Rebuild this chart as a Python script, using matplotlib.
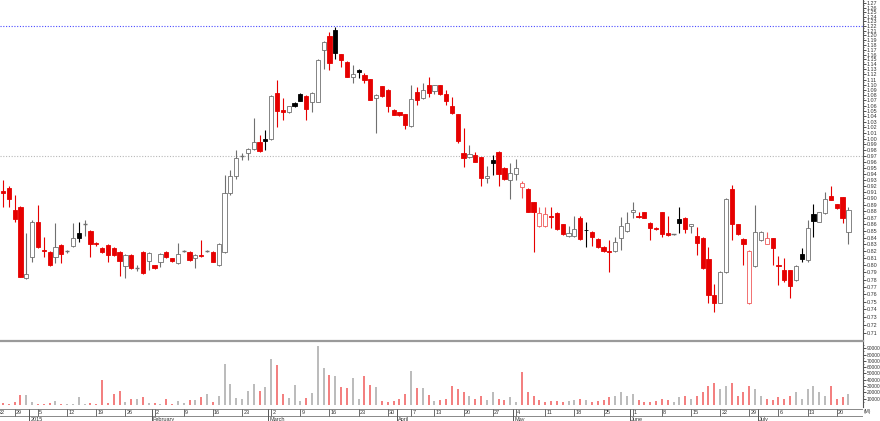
import matplotlib
matplotlib.use("Agg")
import matplotlib.pyplot as plt
from matplotlib.patches import Rectangle
from matplotlib.ticker import FixedLocator, NullLocator, FuncFormatter
import numpy as np
import pandas as pd

plt.rcParams["font.family"] = ["Liberation Sans", "DejaVu Sans"]

# trading calendar (Euronext style holidays)
holidays = ["2014-12-25", "2014-12-26", "2015-01-01", "2015-04-03", "2015-04-06", "2015-05-01"]
dates = pd.bdate_range("2014-12-23", "2015-07-22", freq="C", holidays=holidays)

opens = [0.912, 0.917, 0.882, 0.887, 0.782, 0.812, 0.863, 0.822, 0.819, 0.812,
         0.829, 0.820, 0.827, 0.847, 0.860, 0.850, 0.832, 0.825, 0.829, 0.825,
         0.819, 0.799, 0.815, 0.796, 0.819, 0.806, 0.800, 0.805, 0.819, 0.810,
         0.803, 0.820, 0.819, 0.810, 0.814, 0.820, 0.819, 0.800, 0.819, 0.909,
         0.936, 0.970, 0.975, 0.982, 0.994, 0.999, 0.999, 1.084, 1.051, 1.048,
         1.065, 1.082, 1.078, 1.067, 1.067, 1.169, 1.198, 1.211, 1.161, 1.145,
         1.115, 1.129, 1.119, 1.111, 1.074, 1.097, 1.090, 1.052, 1.048, 1.044,
         1.022, 1.086, 1.074, 1.099, 1.088, 1.099, 1.082, 1.059, 1.044, 0.975,
         0.968, 0.972, 0.968, 0.933, 0.963, 0.977, 0.950, 0.930, 0.940, 0.918,
         0.915, 0.894, 0.857, 0.857, 0.872, 0.877, 0.860, 0.842, 0.842, 0.870,
         0.852, 0.849, 0.838, 0.826, 0.821, 0.820, 0.839, 0.850, 0.878, 0.872,
         0.878, 0.862, 0.855, 0.878, 0.847, 0.845, 0.868, 0.870, 0.857, 0.843,
         0.840, 0.809, 0.759, 0.749, 0.790, 0.915, 0.860, 0.838, 0.748, 0.799,
         0.836, 0.831, 0.839, 0.801, 0.793, 0.793, 0.779, 0.816, 0.808, 0.876,
         0.864, 0.877, 0.904, 0.891, 0.902, 0.848]
highs = [0.930, 0.920, 0.905, 0.888, 0.847, 0.866, 0.890, 0.841, 0.820, 0.862,
         0.830, 0.822, 0.862, 0.863, 0.866, 0.851, 0.834, 0.826, 0.830, 0.826,
         0.820, 0.816, 0.816, 0.800, 0.820, 0.819, 0.801, 0.817, 0.820, 0.811,
         0.832, 0.822, 0.820, 0.816, 0.836, 0.822, 0.820, 0.832, 0.938, 0.946,
         0.980, 0.975, 0.984, 1.037, 1.007, 1.016, 1.080, 1.109, 1.074, 1.060,
         1.066, 1.083, 1.080, 1.086, 1.151, 1.188, 1.207, 1.218, 1.162, 1.146,
         1.139, 1.131, 1.123, 1.112, 1.082, 1.098, 1.091, 1.053, 1.049, 1.045,
         1.099, 1.095, 1.103, 1.114, 1.100, 1.100, 1.090, 1.076, 1.045, 1.019,
         0.989, 0.977, 0.969, 0.953, 0.972, 0.978, 0.951, 0.958, 0.965, 0.928,
         0.916, 0.895, 0.887, 0.887, 0.887, 0.878, 0.861, 0.857, 0.872, 0.872,
         0.863, 0.850, 0.839, 0.827, 0.836, 0.841, 0.871, 0.879, 0.894, 0.879,
         0.879, 0.863, 0.856, 0.879, 0.872, 0.846, 0.887, 0.871, 0.861, 0.856,
         0.841, 0.826, 0.774, 0.792, 0.901, 0.921, 0.861, 0.839, 0.822, 0.889,
         0.850, 0.849, 0.840, 0.813, 0.810, 0.794, 0.800, 0.825, 0.866, 0.892,
         0.879, 0.910, 0.920, 0.892, 0.903, 0.887]
lows = [0.887, 0.887, 0.863, 0.783, 0.781, 0.805, 0.825, 0.812, 0.799, 0.803,
        0.803, 0.818, 0.826, 0.833, 0.843, 0.812, 0.828, 0.818, 0.805, 0.813,
        0.785, 0.782, 0.795, 0.792, 0.788, 0.794, 0.795, 0.797, 0.811, 0.805,
        0.802, 0.819, 0.806, 0.796, 0.812, 0.819, 0.804, 0.799, 0.818, 0.905,
        0.932, 0.963, 0.963, 0.980, 0.977, 0.980, 0.998, 1.021, 1.034, 1.047,
        1.058, 1.068, 1.034, 1.048, 1.066, 1.131, 1.129, 1.151, 1.135, 1.114,
        1.103, 1.113, 1.103, 1.070, 1.010, 1.077, 1.048, 1.042, 1.041, 1.017,
        1.020, 1.061, 1.073, 1.076, 1.082, 1.081, 1.061, 1.045, 0.992, 0.951,
        0.966, 0.959, 0.920, 0.925, 0.938, 0.920, 0.930, 0.899, 0.930, 0.901,
        0.878, 0.819, 0.856, 0.856, 0.854, 0.852, 0.844, 0.841, 0.841, 0.836,
        0.826, 0.827, 0.825, 0.819, 0.790, 0.819, 0.822, 0.849, 0.869, 0.870,
        0.869, 0.836, 0.852, 0.841, 0.843, 0.844, 0.847, 0.847, 0.847, 0.815,
        0.795, 0.748, 0.737, 0.748, 0.789, 0.836, 0.844, 0.800, 0.747, 0.798,
        0.835, 0.830, 0.800, 0.772, 0.777, 0.755, 0.778, 0.805, 0.805, 0.841,
        0.863, 0.876, 0.897, 0.884, 0.862, 0.830]
closes = [0.909, 0.899, 0.868, 0.784, 0.788, 0.863, 0.826, 0.820, 0.800, 0.826,
          0.816, 0.820, 0.839, 0.839, 0.860, 0.831, 0.830, 0.819, 0.815, 0.814,
          0.806, 0.815, 0.796, 0.796, 0.789, 0.817, 0.796, 0.816, 0.812, 0.806,
          0.816, 0.820, 0.807, 0.815, 0.813, 0.820, 0.805, 0.831, 0.909, 0.936,
          0.966, 0.970, 0.982, 0.994, 0.979, 0.996, 1.078, 1.050, 1.049, 1.059,
          1.059, 1.069, 1.054, 1.084, 1.149, 1.186, 1.143, 1.163, 1.149, 1.115,
          1.121, 1.125, 1.109, 1.071, 1.080, 1.078, 1.059, 1.043, 1.042, 1.025,
          1.072, 1.071, 1.090, 1.084, 1.099, 1.082, 1.069, 1.046, 0.996, 0.966,
          0.973, 0.960, 0.933, 0.936, 0.958, 0.940, 0.931, 0.941, 0.950, 0.925,
          0.879, 0.878, 0.877, 0.876, 0.871, 0.853, 0.845, 0.847, 0.853, 0.838,
          0.851, 0.841, 0.826, 0.820, 0.819, 0.834, 0.857, 0.862, 0.882, 0.871,
          0.870, 0.854, 0.853, 0.845, 0.844, 0.845, 0.862, 0.853, 0.860, 0.832,
          0.796, 0.759, 0.748, 0.790, 0.899, 0.860, 0.845, 0.831, 0.820, 0.849,
          0.849, 0.839, 0.824, 0.799, 0.779, 0.771, 0.799, 0.809, 0.855, 0.865,
          0.878, 0.899, 0.898, 0.885, 0.869, 0.882]
volumes = [2600, 1500, 5300, 15900, 15900, 4800, 2100, 1000, 3700, 6300,
           1600, 1000, 1000, 12200, 1000, 3200, 1600, 39000, 3700, 17500,
           22700, 4800, 9500, 9000, 12200, 3700, 3200, 1000, 9000, 1000,
           5800, 3200, 7400, 7400, 12700, 17500, 4800, 14300, 64500, 33900,
           10600, 9500, 22700, 33900, 22700, 28000, 72500, 63500, 17500, 10600,
           31200, 6300, 10600, 19600, 93600, 58200, 47600, 46600, 28600, 26500,
           43400, 9000, 46000, 31700, 28600, 6300, 4800, 6300, 9000, 18000,
           53400, 27500, 26500, 15900, 6300, 8000, 10000, 30000, 25000, 20000,
           15000, 10000, 15000, 8000, 20000, 10000, 8000, 12000, 5000, 52000,
           20000, 15000, 8000, 5000, 6000, 7000, 5000, 6000, 8000, 10000,
           8000, 5000, 6000, 8000, 12000, 15000, 20000, 15000, 18000, 8000,
           5000, 5000, 6000, 10000, 8000, 5000, 12000, 15000, 10000, 15000,
           20000, 30000, 35000, 25000, 30000, 35000, 15000, 20000, 30000, 25000,
           15000, 10000, 8000, 12000, 10000, 15000, 20000, 10000, 25000, 30000,
           20000, 15000, 30000, 10000, 12000, 18000]

resistance = 1.22
support = 0.97

RED = "#e60000"
PINK = "#f05a5a"
GRAY = "#707070"
BLACK = "#000000"
TXT = "#333333"

W, H = 880, 421
fig = plt.figure(figsize=(W / 100, H / 100), dpi=100)
axp = fig.add_axes([0, 81 / H, 863 / W, 340 / H])
axv = fig.add_axes([0, 14 / H, 863 / W, 66 / H])
axd = fig.add_axes([0, 0, 863 / W, 14 / H])

n = len(closes)
xlim = (-0.51, 147.5)
bw = 0.72

# candles
for i in range(n):
    o, h, l, c = opens[i], highs[i], lows[i], closes[i]
    up_day = i > 0 and c >= closes[i - 1]
    if c > o:
        edge = GRAY if up_day else PINK
        face = "white"
    elif c < o:
        edge = BLACK if up_day else RED
        face = edge
    else:
        edge = GRAY if up_day else RED
        face = edge
    axp.vlines(i, l, h, color=edge, lw=0.8, zorder=2)
    if c == o:
        axp.hlines(c, i - bw / 2, i + bw / 2, color=edge, lw=1.0, zorder=3)
    else:
        axp.add_patch(Rectangle((i - bw / 2, min(o, c)), bw, abs(c - o),
                                facecolor=face, edgecolor=edge, lw=0.6, zorder=3))

axp.axhline(resistance, color="#4a4aff", lw=0.8, ls=(0, (1, 1.5)), zorder=1)
axp.axhline(support, color="#b8b8b8", lw=0.8, ls=(0, (1, 1.5)), zorder=1)

axp.set_yscale("log")
axp.set_ylim(0.7012, 1.2771)
axp.set_xlim(*xlim)
ticks = np.round(np.arange(0.71, 1.2701, 0.01), 2)
axp.yaxis.set_major_locator(FixedLocator(ticks))
axp.yaxis.set_minor_locator(FixedLocator(ticks + 0.005))
axp.yaxis.set_major_formatter(FuncFormatter(lambda v, p: "%.2f" % v))
axp.yaxis.set_minor_formatter(FuncFormatter(lambda v, p: ""))
axp.yaxis.tick_right()
axp.tick_params(axis="y", which="major", labelsize=3.9, length=2, width=0.6,
                pad=0.8, colors=TXT)
axp.tick_params(axis="y", which="minor", length=1, width=0.5, colors=TXT)
axp.set_xticks([])
for s in ["top", "left", "bottom"]:
    axp.spines[s].set_visible(False)
axp.spines["right"].set_color("#555555")
axp.spines["right"].set_linewidth(0.8)

# volume
vcol = [PINK if (i == 0 or closes[i] < closes[i - 1]) else "#a8a8a8" for i in range(n)]
axv.vlines(np.arange(n), 0, volumes, colors=vcol, lw=1.1)
axv.set_xlim(*xlim)
axv.set_ylim(-3200, 101600)
axv.yaxis.tick_right()
axv.yaxis.set_major_locator(FixedLocator(np.arange(10000, 90001, 10000)))
axv.yaxis.set_minor_locator(FixedLocator(np.arange(5000, 95001, 10000)))
axv.yaxis.set_major_formatter(FuncFormatter(lambda v, p: "%d" % v))
axv.yaxis.set_minor_formatter(FuncFormatter(lambda v, p: ""))
axv.tick_params(axis="y", which="major", labelsize=3.5, length=2, width=0.6,
                pad=0.8, colors=TXT)
axv.tick_params(axis="y", which="minor", length=1, width=0.5, colors=TXT)
axv.set_xticks([])
axv.spines["left"].set_visible(False)
axv.spines["bottom"].set_visible(False)
axv.spines["top"].set_color("#9a9a9a")
axv.spines["top"].set_linewidth(1.6)
axv.spines["right"].set_color("#555555")
axv.spines["right"].set_linewidth(0.8)
fig.text(864 / W, 9.5 / H, "(M)", fontsize=3.6, color=TXT, va="center")

# date strip
axd.set_xlim(*xlim)
axd.set_ylim(0, 1)
axd.axis("off")
axd.axhline(0.86, color="#888888", lw=0.7)
axd.axhline(0.36, color="#888888", lw=0.7)
months = ["2015", "February", "March", "April", "May", "June", "July"]
dser = pd.Series(dates)
mstart = dser.groupby(dser.dt.month).head(1).index[1:]
for k, i in enumerate(mstart):
    axd.vlines(i - 0.5, 0, 0.86, color="#555555", lw=0.7)
    axd.text(i - 0.3, 0.13, months[k], fontsize=4.0, color=TXT, va="center")
wstart = dser[dser.dt.isocalendar().week.diff() != 0].index
for i in wstart:
    axd.vlines(i, 0.36, 0.86, color="#555555", lw=0.6)
    axd.text(i + 0.2, 0.6, str(dates[i].day), fontsize=4.0, color=TXT,
             va="center", clip_on=True)
axd.vlines(-1, 0.36, 0.86, color="#555555", lw=0.6)
axd.text(-0.8, 0.6, "22", fontsize=4.0, color=TXT, va="center", clip_on=True)

fig.savefig("out.png", dpi=100)
